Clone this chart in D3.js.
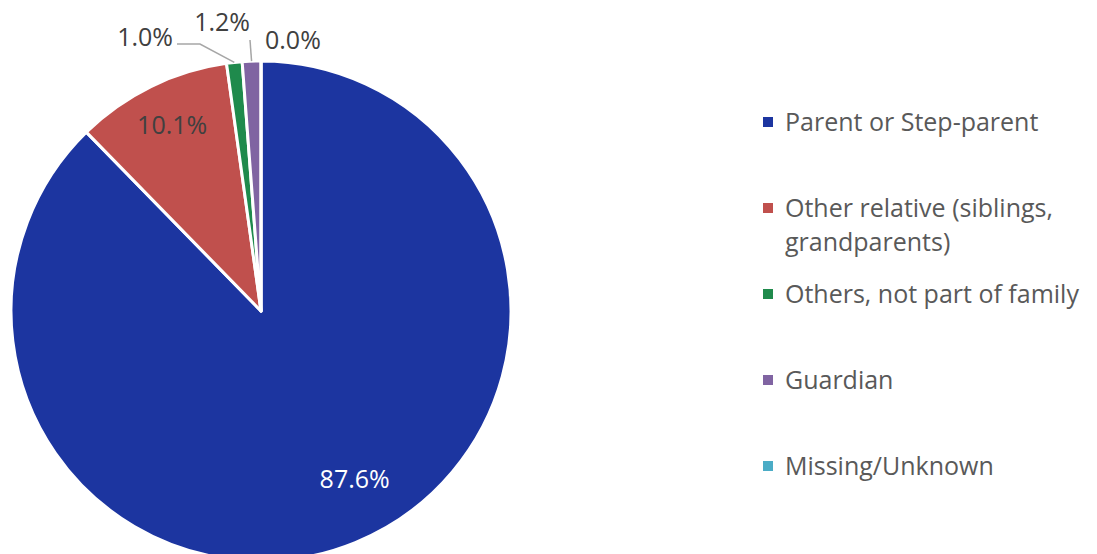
<!DOCTYPE html>
<html>
<head>
<meta charset="utf-8">
<script src="https://cdn.jsdelivr.net/npm/d3@7"></script>
<style>
  html, body { margin: 0; padding: 0; background: #fff; }
  svg { display: block; }
  text { font-family: "Open Sans", "Noto Sans", sans-serif; }
</style>
</head>
<body>
<svg id="chart" width="1097" height="554"></svg>
<script>
// Who the young people live with (share of total, %)
const categories = [
  "Parent or Step-parent",
  "Other relative (siblings, grandparents)",
  "Others, not part of family",
  "Guardian",
  "Missing/Unknown"
];
const values = [87.6, 10.1, 1.0, 1.2, 0.0];
const labels = ["87.6%", "10.1%", "1.0%", "1.2%", "0.0%"];
const legendLines = [
  ["Parent or Step-parent"],
  ["Other relative (siblings,", "grandparents)"],
  ["Others, not part of family"],
  ["Guardian"],
  ["Missing/Unknown"]
];
const colors = ["#1c35a0", "#c0504d", "#1f8a4c", "#8064a2", "#4bacc6"];

const W = 1097, H = 554;
const cx = 261, cy = 311, R = 250;

const svg = d3.select("#chart");
const g = svg.append("g").attr("transform", `translate(${cx},${cy})`);

const pie = d3.pie().sort(null).value(d => d.value);
const arcs = pie(categories.map((c, i) => ({ name: c, value: values[i], i })));
const arc = d3.arc().innerRadius(0).outerRadius(R);

g.selectAll("path.slice")
  .data(arcs)
  .join("path")
  .attr("class", "slice")
  .attr("d", arc)
  .attr("fill", d => colors[d.data.i])
  .attr("stroke", "#fff")
  .attr("stroke-width", 3)
  .attr("stroke-linejoin", "round");

// polar helper: angle measured clockwise from 12 o'clock
const polar = (a, r) => [r * Math.sin(a), -r * Math.cos(a)];
const mid = d => (d.startAngle + d.endAngle) / 2;

// label placement: inside labels by (angle shift, radius); outside labels with leaders
const labelStyle = [
  { inside: true, da: -0.12, r: 193, color: "#ffffff" },
  { inside: true, da: 0.01, r: 206, color: "#404040" },
  { inside: false, elbow: [-61, -267], end: [-84, -267], anchor: "end", tx: -88, ty: -274 },
  { inside: false, elbow: [-11, -271], end: [-11, -271], anchor: "end", tx: -11, ty: -289 },
  { inside: false, noLeader: true, anchor: "start", tx: 4, ty: -271 }
];

const fs = 25;

arcs.forEach((d, k) => {
  const s = labelStyle[k];
  const a = mid(d);
  if (s.inside) {
    const [x, y] = polar(a + s.da, s.r);
    g.append("text")
      .attr("x", x).attr("y", y)
      .attr("dy", "0.35em")
      .attr("text-anchor", "middle")
      .attr("font-size", fs)
      .attr("fill", s.color)
      .text(labels[k]);
  } else {
    if (!s.noLeader) {
      const p0 = polar(a, R);
      g.append("polyline")
        .attr("points", [p0, s.elbow, s.end].map(p => p.join(",")).join(" "))
        .attr("fill", "none")
        .attr("stroke", "#a6a6a6")
        .attr("stroke-width", 1.5);
    }
    g.append("text")
      .attr("x", s.tx).attr("y", s.ty)
      .attr("dy", "0.35em")
      .attr("text-anchor", s.anchor)
      .attr("font-size", fs)
      .attr("fill", "#404040")
      .text(labels[k]);
  }
});

// legend
const legend = svg.append("g").attr("transform", "translate(763,122)");
const rowY = d3.scalePoint().domain(d3.range(categories.length)).range([0, 344]);
const item = legend.selectAll("g.item")
  .data(categories.map((c, i) => i))
  .join("g")
  .attr("class", "item")
  .attr("transform", i => `translate(0,${rowY(i)})`);

item.append("rect")
  .attr("x", 0).attr("y", -5)
  .attr("width", 10).attr("height", 10)
  .attr("fill", i => colors[i]);

item.append("text")
  .attr("x", 22)
  .attr("font-size", fs)
  .attr("fill", "#595959")
  .selectAll("tspan")
  .data(i => legendLines[i])
  .join("tspan")
  .attr("x", 22)
  .attr("y", (t, j) => j * 34)
  .attr("dy", "0.35em")
  .text(t => t);
</script>
</body>
</html>
